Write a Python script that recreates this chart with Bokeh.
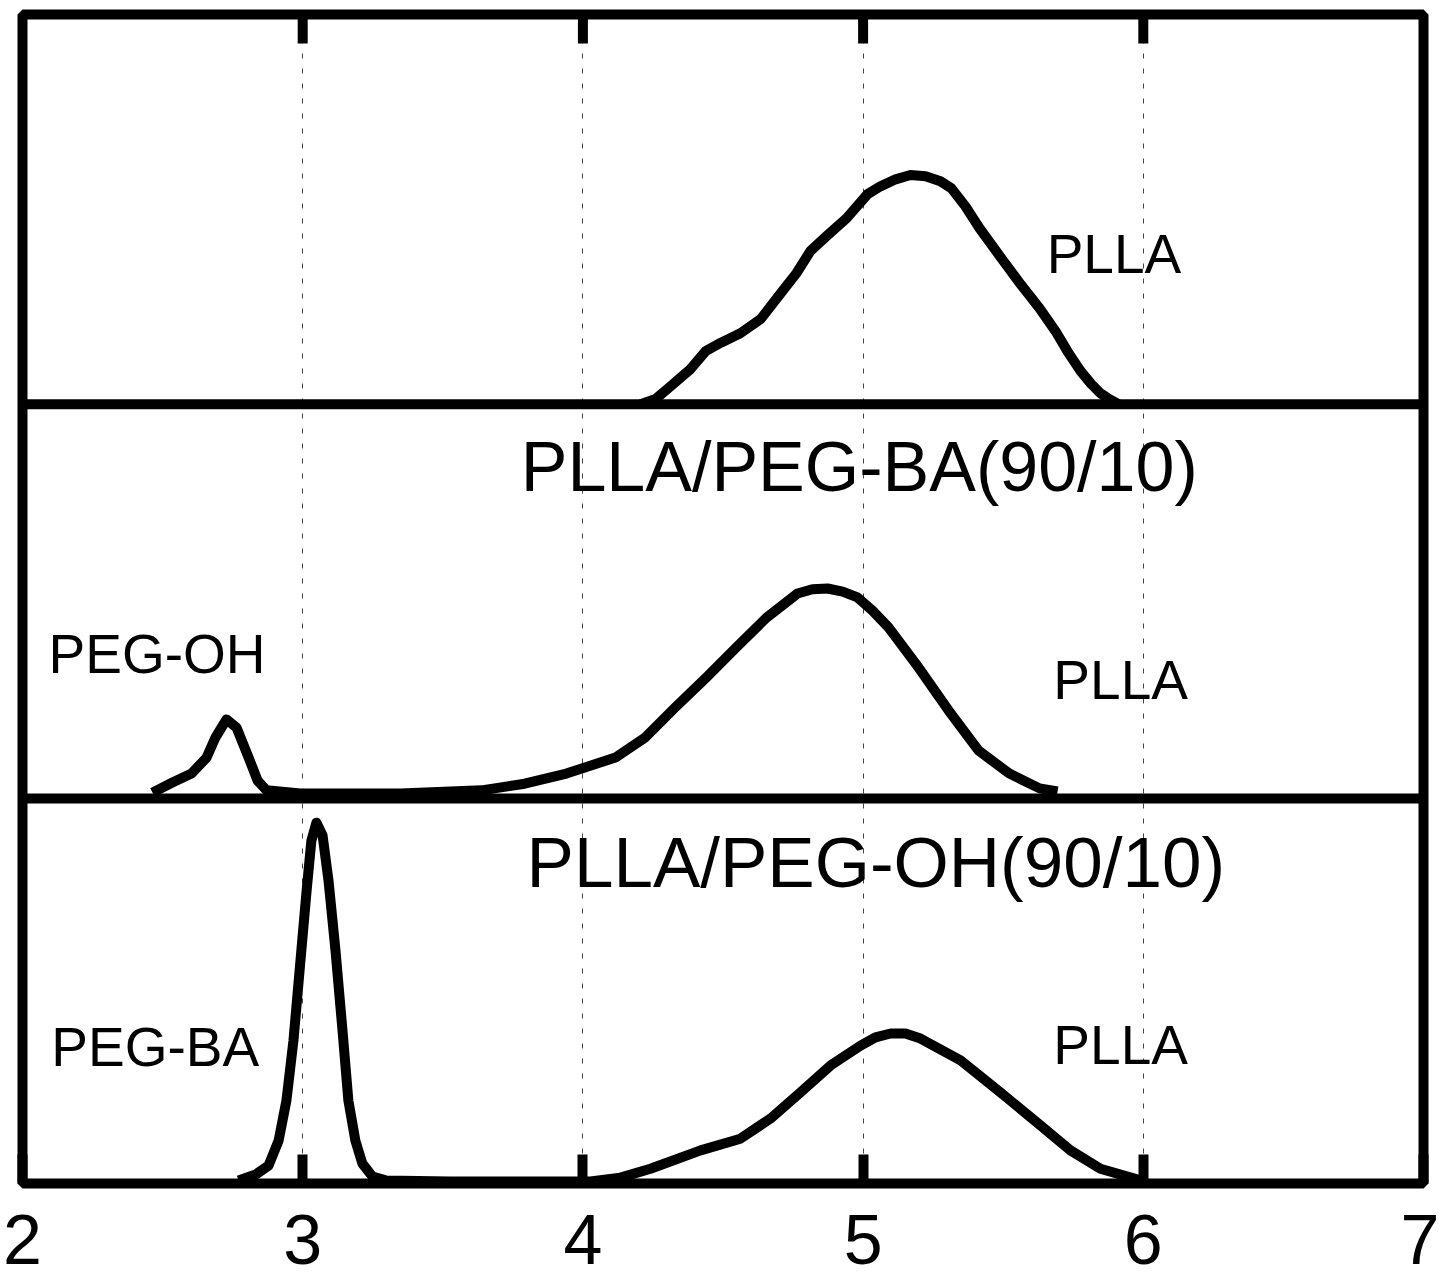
from bokeh.plotting import figure
from bokeh.models import Span, Label, FixedTicker, Range1d
from bokeh.embed import file_html
from bokeh.resources import INLINE

# GPC traces, x = log M, y = signal height (fraction of one panel's height)
plla_logm = [4.206, 4.259, 4.313, 4.384, 4.438, 4.491, 4.562, 4.634, 4.712, 4.762,
             4.812, 4.866, 4.941, 5.016, 5.062, 5.116, 5.169, 5.223, 5.276, 5.315,
             5.365, 5.415, 5.501, 5.562, 5.630, 5.687, 5.729, 5.776, 5.815, 5.847,
             5.879, 5.911]
plla_signal = [0.000, 0.013, 0.046, 0.090, 0.136, 0.157, 0.182, 0.218, 0.290, 0.336,
               0.393, 0.429, 0.477, 0.539, 0.559, 0.577, 0.588, 0.585, 0.572, 0.554,
               0.508, 0.452, 0.367, 0.308, 0.246, 0.187, 0.136, 0.085, 0.051, 0.028,
               0.013, 0.000]

ba_blend_logm = [2.464, 2.535, 2.603, 2.657, 2.689, 2.728, 2.764, 2.807, 2.839, 2.871,
                 2.992, 3.349, 3.638, 3.792, 3.941, 4.116, 4.223, 4.330, 4.441, 4.548,
                 4.655, 4.766, 4.819, 4.873, 4.927, 4.980, 5.034, 5.091, 5.198, 5.305,
                 5.412, 5.522, 5.630, 5.694]
ba_blend_signal = [0.015, 0.041, 0.064, 0.105, 0.157, 0.203, 0.182, 0.105, 0.046, 0.021,
                   0.013, 0.013, 0.021, 0.038, 0.064, 0.105, 0.157, 0.234, 0.311, 0.388,
                   0.464, 0.526, 0.537, 0.539, 0.531, 0.516, 0.482, 0.439, 0.336, 0.226,
                   0.123, 0.064, 0.026, 0.018]

oh_blend_logm = [2.771, 2.832, 2.878, 2.914, 2.942, 2.967, 2.992, 3.014, 3.031, 3.049,
                 3.071, 3.092, 3.117, 3.142, 3.163, 3.188, 3.213, 3.249, 3.296, 3.528,
                 3.777, 4.027, 4.134, 4.241, 4.420, 4.562, 4.670, 4.777, 4.884, 4.991,
                 5.044, 5.098, 5.151, 5.205, 5.348, 5.490, 5.633, 5.740, 5.847, 5.990]
oh_blend_signal = [0.008, 0.023, 0.046, 0.110, 0.213, 0.367, 0.572, 0.752, 0.880, 0.926,
                   0.893, 0.778, 0.598, 0.393, 0.213, 0.110, 0.051, 0.018, 0.008, 0.005,
                   0.005, 0.005, 0.015, 0.038, 0.085, 0.115, 0.167, 0.234, 0.303, 0.354,
                   0.375, 0.385, 0.385, 0.372, 0.316, 0.234, 0.149, 0.085, 0.038, 0.008]

x_ticks = [2, 3, 4, 5, 6, 7]
inner_ticks = [3, 4, 5, 6]

# baseline of each stacked panel (top, middle, bottom)
panel_base = [2.0, 0.988, 0.0]

FONT = "Liberation Sans"

p = figure(width=1439, height=1272,
           x_range=Range1d(2, 7), y_range=Range1d(0, 3),
           output_backend="svg", toolbar_location=None,
           y_axis_location=None,
           min_border_left=22, min_border_right=16,
           min_border_top=14, min_border_bottom=89)

p.background_fill_color = "white"
p.border_fill_color = "white"
p.outline_line_color = "black"
p.outline_line_width = 10

ax = p.xaxis[0]
ax.ticker = FixedTicker(ticks=x_ticks)
ax.axis_line_color = None
ax.major_tick_in = 29
ax.major_tick_out = 0
ax.major_tick_line_width = 10
ax.major_tick_line_color = "black"
ax.minor_tick_line_color = None
ax.major_label_text_font = FONT
ax.major_label_text_font_size = "70px"
ax.major_label_text_color = "black"
ax.major_label_standoff = 31

p.xgrid.ticker = FixedTicker(ticks=inner_ticks)
p.xgrid.grid_line_color = "#444444"
p.xgrid.grid_line_width = 1
p.xgrid.grid_line_dash = "5 10"
p.ygrid.visible = False

# inward tick marks along the top edge
p.rect(x=inner_ticks, y=[p.y_range.end] * len(inner_ticks),
       width=10, height=58, width_units="screen", height_units="screen",
       fill_color="black", line_color=None)

for base in panel_base[:2]:
    p.add_layout(Span(location=base, dimension="width",
                      line_color="black", line_width=10))

curves = [(plla_logm, plla_signal, panel_base[0]),
          (ba_blend_logm, ba_blend_signal, panel_base[1]),
          (oh_blend_logm, oh_blend_signal, panel_base[2])]
for xs, ys, base in curves:
    p.line(xs, [base + v for v in ys], line_color="black", line_width=10,
           line_join="round")

labels = [
    (5.655, 2.386, "PLLA", "55px"),
    (3.778, 1.840, "PLLA/PEG-BA(90/10)", "70px"),
    (2.093, 1.360, "PEG-OH", "55px"),
    (5.679, 1.291, "PLLA", "55px"),
    (3.799, 0.824, "PLLA/PEG-OH(90/10)", "71px"),
    (2.103, 0.351, "PEG-BA", "55px"),
    (5.679, 0.356, "PLLA", "55px"),
]
for x, y, txt, size in labels:
    p.add_layout(Label(x=x, y=y, text=txt, text_font=FONT, text_font_size=size,
                       text_color="black", text_align="left",
                       text_baseline="alphabetic"))

open("out.html", "w").write(file_html(p, INLINE))
